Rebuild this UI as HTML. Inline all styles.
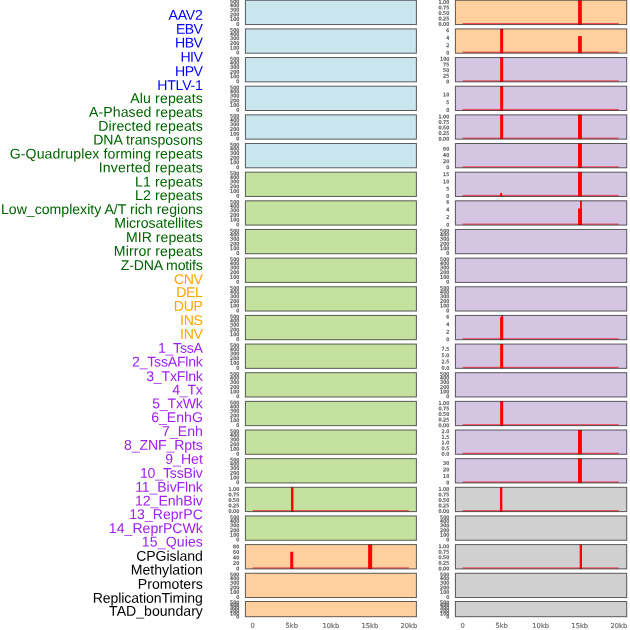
<!DOCTYPE html>
<html lang="en"><head><meta charset="utf-8"><title>Annotation tracks</title>
<style>html,body{margin:0;padding:0;background:#fff}body{width:630px;height:630px;overflow:hidden}svg{display:block;will-change:transform;opacity:0.999}.l{font-family:"Liberation Sans",Arial,sans-serif;font-size:14.10px;text-anchor:end}.t{font-family:"DejaVu Sans","Liberation Sans",sans-serif;font-size:4.85px;text-anchor:end;fill:#666666;stroke:#666666;stroke-width:0.3px}.x{font-family:"DejaVu Sans","Liberation Sans",sans-serif;font-size:6.75px;text-anchor:middle;fill:#666666;stroke:#666666;stroke-width:0.15px}</style></head><body>
<svg width="630" height="630" viewBox="0 0 630 630">
<rect x="0" y="0" width="630" height="630" fill="#ffffff"/>
<g class="l" transform="matrix(1 0.0005 0 1 0 -0.08)">
<text x="202.90" y="19.80" fill="#0000ff" textLength="34.31" lengthAdjust="spacing">AAV2</text>
<text x="202.90" y="33.67" fill="#0000ff" textLength="26.92" lengthAdjust="spacing">EBV</text>
<text x="202.90" y="47.54" fill="#0000ff" textLength="27.79" lengthAdjust="spacing">HBV</text>
<text x="202.90" y="61.71" fill="#0000ff" textLength="22.41" lengthAdjust="spacing">HIV</text>
<text x="202.90" y="76.08" fill="#0000ff" textLength="27.79" lengthAdjust="spacing">HPV</text>
<text x="202.90" y="89.95" fill="#0000ff" textLength="45.66" lengthAdjust="spacing">HTLV-1</text>
<text x="202.90" y="103.02" fill="#006400" textLength="72.63" lengthAdjust="spacing">Alu repeats</text>
<text x="202.90" y="116.89" fill="#006400" textLength="113.87" lengthAdjust="spacing">A-Phased repeats</text>
<text x="202.90" y="130.76" fill="#006400" textLength="104.75" lengthAdjust="spacing">Directed repeats</text>
<text x="202.90" y="144.63" fill="#006400" textLength="109.73" lengthAdjust="spacing">DNA transposons</text>
<text x="202.90" y="158.50" fill="#006400" textLength="193.14" lengthAdjust="spacing">G-Quadruplex forming repeats</text>
<text x="202.90" y="172.37" fill="#006400" textLength="104.20" lengthAdjust="spacing">Inverted repeats</text>
<text x="202.90" y="186.54" fill="#006400" textLength="67.93" lengthAdjust="spacing">L1 repeats</text>
<text x="202.90" y="200.11" fill="#006400" textLength="67.93" lengthAdjust="spacing">L2 repeats</text>
<text x="202.90" y="213.98" fill="#006400" textLength="201.94" lengthAdjust="spacing">Low_complexity A/T rich regions</text>
<text x="202.90" y="227.85" fill="#006400" textLength="88.63" lengthAdjust="spacing">Microsatellites</text>
<text x="202.90" y="242.02" fill="#006400" textLength="76.79" lengthAdjust="spacing">MIR repeats</text>
<text x="202.90" y="255.89" fill="#006400" textLength="89.06" lengthAdjust="spacing">Mirror repeats</text>
<text x="202.90" y="269.96" fill="#006400" textLength="82.12" lengthAdjust="spacing">Z-DNA motifs</text>
<text x="202.90" y="284.03" fill="#ffa500" textLength="28.77" lengthAdjust="spacing">CNV</text>
<text x="202.90" y="296.90" fill="#ffa500" textLength="26.73" lengthAdjust="spacing">DEL</text>
<text x="202.90" y="310.77" fill="#ffa500" textLength="29.07" lengthAdjust="spacing">DUP</text>
<text x="202.90" y="324.94" fill="#ffa500" textLength="22.81" lengthAdjust="spacing">INS</text>
<text x="202.90" y="338.81" fill="#ffa500" textLength="22.81" lengthAdjust="spacing">INV</text>
<text x="202.90" y="352.68" fill="#a020f0" textLength="44.94" lengthAdjust="spacing">1_TssA</text>
<text x="202.90" y="366.55" fill="#a020f0" textLength="70.88" lengthAdjust="spacing">2_TssAFlnk</text>
<text x="202.90" y="380.92" fill="#a020f0" textLength="56.69" lengthAdjust="spacing">3_TxFlnk</text>
<text x="202.90" y="394.59" fill="#a020f0" textLength="30.65" lengthAdjust="spacing">4_Tx</text>
<text x="202.90" y="408.16" fill="#a020f0" textLength="50.71" lengthAdjust="spacing">5_TxWk</text>
<text x="202.90" y="422.03" fill="#a020f0" textLength="51.74" lengthAdjust="spacing">6_EnhG</text>
<text x="202.90" y="435.90" fill="#a020f0" textLength="40.77" lengthAdjust="spacing">7_Enh</text>
<text x="202.90" y="449.77" fill="#a020f0" textLength="78.93" lengthAdjust="spacing">8_ZNF_Rpts</text>
<text x="202.90" y="463.64" fill="#a020f0" textLength="37.63" lengthAdjust="spacing">9_Het</text>
<text x="202.90" y="477.81" fill="#a020f0" textLength="62.96" lengthAdjust="spacing">10_TssBiv</text>
<text x="202.90" y="491.68" fill="#a020f0" textLength="67.71" lengthAdjust="spacing">11_BivFlnk</text>
<text x="202.90" y="505.55" fill="#a020f0" textLength="67.90" lengthAdjust="spacing">12_EnhBiv</text>
<text x="202.90" y="519.12" fill="#a020f0" textLength="73.68" lengthAdjust="spacing">13_ReprPC</text>
<text x="202.90" y="532.99" fill="#a020f0" textLength="94.03" lengthAdjust="spacing">14_ReprPCWk</text>
<text x="202.90" y="546.56" fill="#a020f0" textLength="61.06" lengthAdjust="spacing">15_Quies</text>
<text x="202.90" y="560.73" fill="#000000" textLength="66.70" lengthAdjust="spacing">CPGisland</text>
<text x="202.90" y="574.60" fill="#000000" textLength="72.11" lengthAdjust="spacing">Methylation</text>
<text x="202.90" y="588.70" fill="#000000" textLength="65.04" lengthAdjust="spacing">Promoters</text>
<text x="202.90" y="602.80" fill="#000000" textLength="110.24" lengthAdjust="spacing">ReplicationTiming</text>
<text x="202.90" y="615.80" fill="#000000" textLength="93.79" lengthAdjust="spacing">TAD_boundary</text>
</g>
<g>
<rect x="245.40" y="0.25" width="171.00" height="24.30" fill="#c9e5ee"/>
<rect x="245.40" y="0.25" width="171.00" height="24.30" fill="none" stroke="#141414" stroke-opacity="0.68" stroke-width="1.0"/>
<g class="t" transform="matrix(1 0.001 0 1 0 -0.25)">
<text x="239.30" y="25.65">0</text>
<text x="239.30" y="20.85">100</text>
<text x="239.30" y="16.25">200</text>
<text x="239.30" y="11.45">300</text>
<text x="239.30" y="7.15">400</text>
<text x="239.30" y="3.25">500</text>
</g></g>
<g>
<rect x="245.40" y="28.90" width="171.00" height="24.30" fill="#c9e5ee"/>
<rect x="245.40" y="28.90" width="171.00" height="24.30" fill="none" stroke="#141414" stroke-opacity="0.68" stroke-width="1.0"/>
<g class="t" transform="matrix(1 0.001 0 1 0 -0.25)">
<text x="239.30" y="54.30">0</text>
<text x="239.30" y="49.50">100</text>
<text x="239.30" y="44.90">200</text>
<text x="239.30" y="40.10">300</text>
<text x="239.30" y="35.80">400</text>
<text x="239.30" y="31.90">500</text>
</g></g>
<g>
<rect x="245.40" y="57.55" width="171.00" height="24.30" fill="#c9e5ee"/>
<rect x="245.40" y="57.55" width="171.00" height="24.30" fill="none" stroke="#141414" stroke-opacity="0.68" stroke-width="1.0"/>
<g class="t" transform="matrix(1 0.001 0 1 0 -0.25)">
<text x="239.30" y="82.95">0</text>
<text x="239.30" y="78.15">100</text>
<text x="239.30" y="73.55">200</text>
<text x="239.30" y="68.75">300</text>
<text x="239.30" y="64.45">400</text>
<text x="239.30" y="60.55">500</text>
</g></g>
<g>
<rect x="245.40" y="86.20" width="171.00" height="24.30" fill="#c9e5ee"/>
<rect x="245.40" y="86.20" width="171.00" height="24.30" fill="none" stroke="#141414" stroke-opacity="0.68" stroke-width="1.0"/>
<g class="t" transform="matrix(1 0.001 0 1 0 -0.25)">
<text x="239.30" y="111.60">0</text>
<text x="239.30" y="106.80">100</text>
<text x="239.30" y="102.20">200</text>
<text x="239.30" y="97.40">300</text>
<text x="239.30" y="93.10">400</text>
<text x="239.30" y="89.20">500</text>
</g></g>
<g>
<rect x="245.40" y="114.85" width="171.00" height="24.30" fill="#c9e5ee"/>
<rect x="245.40" y="114.85" width="171.00" height="24.30" fill="none" stroke="#141414" stroke-opacity="0.68" stroke-width="1.0"/>
<g class="t" transform="matrix(1 0.001 0 1 0 -0.25)">
<text x="239.30" y="140.25">0</text>
<text x="239.30" y="135.45">100</text>
<text x="239.30" y="130.85">200</text>
<text x="239.30" y="126.05">300</text>
<text x="239.30" y="121.75">400</text>
<text x="239.30" y="117.85">500</text>
</g></g>
<g>
<rect x="245.40" y="143.50" width="171.00" height="24.30" fill="#c9e5ee"/>
<rect x="245.40" y="143.50" width="171.00" height="24.30" fill="none" stroke="#141414" stroke-opacity="0.68" stroke-width="1.0"/>
<g class="t" transform="matrix(1 0.001 0 1 0 -0.25)">
<text x="239.30" y="168.90">0</text>
<text x="239.30" y="164.10">100</text>
<text x="239.30" y="159.50">200</text>
<text x="239.30" y="154.70">300</text>
<text x="239.30" y="150.40">400</text>
<text x="239.30" y="146.50">500</text>
</g></g>
<g>
<rect x="245.40" y="172.15" width="171.00" height="24.30" fill="#c5e1a0"/>
<rect x="245.40" y="172.15" width="171.00" height="24.30" fill="none" stroke="#141414" stroke-opacity="0.68" stroke-width="1.0"/>
<g class="t" transform="matrix(1 0.001 0 1 0 -0.25)">
<text x="239.30" y="197.55">0</text>
<text x="239.30" y="192.75">100</text>
<text x="239.30" y="188.15">200</text>
<text x="239.30" y="183.35">300</text>
<text x="239.30" y="179.05">400</text>
<text x="239.30" y="175.15">500</text>
</g></g>
<g>
<rect x="245.40" y="200.80" width="171.00" height="24.30" fill="#c5e1a0"/>
<rect x="245.40" y="200.80" width="171.00" height="24.30" fill="none" stroke="#141414" stroke-opacity="0.68" stroke-width="1.0"/>
<g class="t" transform="matrix(1 0.001 0 1 0 -0.25)">
<text x="239.30" y="226.20">0</text>
<text x="239.30" y="221.40">100</text>
<text x="239.30" y="216.80">200</text>
<text x="239.30" y="212.00">300</text>
<text x="239.30" y="207.70">400</text>
<text x="239.30" y="203.80">500</text>
</g></g>
<g>
<rect x="245.40" y="229.45" width="171.00" height="24.30" fill="#c5e1a0"/>
<rect x="245.40" y="229.45" width="171.00" height="24.30" fill="none" stroke="#141414" stroke-opacity="0.68" stroke-width="1.0"/>
<g class="t" transform="matrix(1 0.001 0 1 0 -0.25)">
<text x="239.30" y="254.85">0</text>
<text x="239.30" y="250.05">100</text>
<text x="239.30" y="245.45">200</text>
<text x="239.30" y="240.65">300</text>
<text x="239.30" y="236.35">400</text>
<text x="239.30" y="232.45">500</text>
</g></g>
<g>
<rect x="245.40" y="258.10" width="171.00" height="24.30" fill="#c5e1a0"/>
<rect x="245.40" y="258.10" width="171.00" height="24.30" fill="none" stroke="#141414" stroke-opacity="0.68" stroke-width="1.0"/>
<g class="t" transform="matrix(1 0.001 0 1 0 -0.25)">
<text x="239.30" y="283.50">0</text>
<text x="239.30" y="278.70">100</text>
<text x="239.30" y="274.10">200</text>
<text x="239.30" y="269.30">300</text>
<text x="239.30" y="265.00">400</text>
<text x="239.30" y="261.10">500</text>
</g></g>
<g>
<rect x="245.40" y="286.75" width="171.00" height="24.30" fill="#c5e1a0"/>
<rect x="245.40" y="286.75" width="171.00" height="24.30" fill="none" stroke="#141414" stroke-opacity="0.68" stroke-width="1.0"/>
<g class="t" transform="matrix(1 0.001 0 1 0 -0.25)">
<text x="239.30" y="312.15">0</text>
<text x="239.30" y="307.35">100</text>
<text x="239.30" y="302.75">200</text>
<text x="239.30" y="297.95">300</text>
<text x="239.30" y="293.65">400</text>
<text x="239.30" y="289.75">500</text>
</g></g>
<g>
<rect x="245.40" y="315.40" width="171.00" height="24.30" fill="#c5e1a0"/>
<rect x="245.40" y="315.40" width="171.00" height="24.30" fill="none" stroke="#141414" stroke-opacity="0.68" stroke-width="1.0"/>
<g class="t" transform="matrix(1 0.001 0 1 0 -0.25)">
<text x="239.30" y="340.80">0</text>
<text x="239.30" y="336.00">100</text>
<text x="239.30" y="331.40">200</text>
<text x="239.30" y="326.60">300</text>
<text x="239.30" y="322.30">400</text>
<text x="239.30" y="318.40">500</text>
</g></g>
<g>
<rect x="245.40" y="344.05" width="171.00" height="24.30" fill="#c5e1a0"/>
<rect x="245.40" y="344.05" width="171.00" height="24.30" fill="none" stroke="#141414" stroke-opacity="0.68" stroke-width="1.0"/>
<g class="t" transform="matrix(1 0.001 0 1 0 -0.25)">
<text x="239.30" y="369.45">0</text>
<text x="239.30" y="364.65">100</text>
<text x="239.30" y="360.05">200</text>
<text x="239.30" y="355.25">300</text>
<text x="239.30" y="350.95">400</text>
<text x="239.30" y="347.05">500</text>
</g></g>
<g>
<rect x="245.40" y="372.70" width="171.00" height="24.30" fill="#c5e1a0"/>
<rect x="245.40" y="372.70" width="171.00" height="24.30" fill="none" stroke="#141414" stroke-opacity="0.68" stroke-width="1.0"/>
<g class="t" transform="matrix(1 0.001 0 1 0 -0.25)">
<text x="239.30" y="398.10">0</text>
<text x="239.30" y="393.30">100</text>
<text x="239.30" y="388.70">200</text>
<text x="239.30" y="383.90">300</text>
<text x="239.30" y="379.60">400</text>
<text x="239.30" y="375.70">500</text>
</g></g>
<g>
<rect x="245.40" y="401.35" width="171.00" height="24.30" fill="#c5e1a0"/>
<rect x="245.40" y="401.35" width="171.00" height="24.30" fill="none" stroke="#141414" stroke-opacity="0.68" stroke-width="1.0"/>
<g class="t" transform="matrix(1 0.001 0 1 0 -0.25)">
<text x="239.30" y="426.75">0</text>
<text x="239.30" y="421.95">100</text>
<text x="239.30" y="417.35">200</text>
<text x="239.30" y="412.55">300</text>
<text x="239.30" y="408.25">400</text>
<text x="239.30" y="404.35">500</text>
</g></g>
<g>
<rect x="245.40" y="430.00" width="171.00" height="24.30" fill="#c5e1a0"/>
<rect x="245.40" y="430.00" width="171.00" height="24.30" fill="none" stroke="#141414" stroke-opacity="0.68" stroke-width="1.0"/>
<g class="t" transform="matrix(1 0.001 0 1 0 -0.25)">
<text x="239.30" y="455.40">0</text>
<text x="239.30" y="450.60">100</text>
<text x="239.30" y="446.00">200</text>
<text x="239.30" y="441.20">300</text>
<text x="239.30" y="436.90">400</text>
<text x="239.30" y="433.00">500</text>
</g></g>
<g>
<rect x="245.40" y="458.65" width="171.00" height="24.30" fill="#c5e1a0"/>
<rect x="245.40" y="458.65" width="171.00" height="24.30" fill="none" stroke="#141414" stroke-opacity="0.68" stroke-width="1.0"/>
<g class="t" transform="matrix(1 0.001 0 1 0 -0.25)">
<text x="239.30" y="484.05">0</text>
<text x="239.30" y="479.25">100</text>
<text x="239.30" y="474.65">200</text>
<text x="239.30" y="469.85">300</text>
<text x="239.30" y="465.55">400</text>
<text x="239.30" y="461.65">500</text>
</g></g>
<g>
<rect x="245.40" y="487.30" width="171.00" height="24.30" fill="#c5e1a0"/>
<rect x="291.05" y="487.30" width="2.40" height="24.00" fill="#ff0000"/>
<rect x="252.70" y="510.05" width="156.20" height="1.25" fill="#ee3040" opacity="0.8"/>
<rect x="291.05" y="510.00" width="2.40" height="1.5" fill="#ff0000"/>
<rect x="245.40" y="487.30" width="171.00" height="24.30" fill="none" stroke="#141414" stroke-opacity="0.68" stroke-width="1.0"/>
<g class="t" transform="matrix(1 0.001 0 1 0 -0.25)">
<text x="239.30" y="512.90">0.00</text>
<text x="239.30" y="507.35">0.25</text>
<text x="239.30" y="501.80">0.50</text>
<text x="239.30" y="496.25">0.75</text>
<text x="239.30" y="490.70">1.00</text>
</g></g>
<g>
<rect x="245.40" y="515.95" width="171.00" height="24.30" fill="#c5e1a0"/>
<rect x="245.40" y="515.95" width="171.00" height="24.30" fill="none" stroke="#141414" stroke-opacity="0.68" stroke-width="1.0"/>
<g class="t" transform="matrix(1 0.001 0 1 0 -0.25)">
<text x="239.30" y="541.35">0</text>
<text x="239.30" y="536.55">100</text>
<text x="239.30" y="531.95">200</text>
<text x="239.30" y="527.15">300</text>
<text x="239.30" y="522.85">400</text>
<text x="239.30" y="518.95">500</text>
</g></g>
<g>
<rect x="245.40" y="544.60" width="171.00" height="24.30" fill="#ffcf9e"/>
<rect x="290.25" y="551.80" width="3.00" height="16.80" fill="#ff0000"/>
<rect x="368.15" y="544.60" width="4.00" height="24.00" fill="#ff0000"/>
<rect x="252.70" y="567.35" width="156.20" height="1.25" fill="#ee3040" opacity="0.8"/>
<rect x="290.25" y="567.30" width="3.00" height="1.5" fill="#ff0000"/>
<rect x="368.15" y="567.30" width="4.00" height="1.5" fill="#ff0000"/>
<rect x="245.40" y="544.60" width="171.00" height="24.30" fill="none" stroke="#141414" stroke-opacity="0.68" stroke-width="1.0"/>
<g class="t" transform="matrix(1 0.001 0 1 0 -0.25)">
<text x="239.30" y="570.20">0</text>
<text x="239.30" y="564.70">20</text>
<text x="239.30" y="559.20">40</text>
<text x="239.30" y="553.70">60</text>
<text x="239.30" y="548.20">80</text>
</g></g>
<g>
<rect x="245.40" y="573.25" width="171.00" height="24.30" fill="#ffcf9e"/>
<rect x="245.40" y="573.25" width="171.00" height="24.30" fill="none" stroke="#141414" stroke-opacity="0.68" stroke-width="1.0"/>
<g class="t" transform="matrix(1 0.001 0 1 0 -0.25)">
<text x="239.30" y="598.65">0</text>
<text x="239.30" y="593.85">100</text>
<text x="239.30" y="589.25">200</text>
<text x="239.30" y="584.45">300</text>
<text x="239.30" y="580.15">400</text>
<text x="239.30" y="576.25">500</text>
</g></g>
<g>
<rect x="245.40" y="601.50" width="171.00" height="15.20" fill="#ffcf9e"/>
<rect x="245.40" y="601.50" width="171.00" height="15.20" fill="none" stroke="#141414" stroke-opacity="0.68" stroke-width="1.0"/>
<g class="t" transform="matrix(1 0.001 0 1 0 -0.25)">
<text x="239.30" y="618.24">0</text>
<text x="239.30" y="615.22">100</text>
<text x="239.30" y="612.33">200</text>
<text x="239.30" y="609.31">300</text>
<text x="239.30" y="606.60">400</text>
<text x="239.30" y="604.15">500</text>
</g></g>
<g class="x" transform="matrix(1 0.0005 0 1 0 -0.17)">
<text x="252.70" y="627.9">0</text>
<text x="291.75" y="627.9">5kb</text>
<text x="330.80" y="627.9">10kb</text>
<text x="369.85" y="627.9">15kb</text>
<text x="408.90" y="627.9">20kb</text>
</g>
<g>
<rect x="455.40" y="0.25" width="171.30" height="24.30" fill="#ffcf9e"/>
<rect x="578.10" y="0.25" width="3.70" height="24.00" fill="#ff0000"/>
<rect x="462.60" y="23.00" width="156.20" height="1.25" fill="#ee3040" opacity="0.8"/>
<rect x="578.10" y="22.95" width="3.70" height="1.5" fill="#ff0000"/>
<rect x="455.40" y="0.25" width="171.30" height="24.30" fill="none" stroke="#141414" stroke-opacity="0.68" stroke-width="1.0"/>
<g class="t" transform="matrix(1 0.001 0 1 0 -0.46)">
<text x="449.30" y="25.85">0.00</text>
<text x="449.30" y="20.30">0.25</text>
<text x="449.30" y="14.75">0.50</text>
<text x="449.30" y="9.20">0.75</text>
<text x="449.30" y="3.65">1.00</text>
</g></g>
<g>
<rect x="455.40" y="28.90" width="171.30" height="24.30" fill="#ffcf9e"/>
<rect x="500.15" y="28.90" width="3.00" height="24.00" fill="#ff0000"/>
<rect x="578.10" y="36.10" width="3.70" height="16.80" fill="#ff0000"/>
<rect x="462.60" y="51.65" width="156.20" height="1.25" fill="#ee3040" opacity="0.8"/>
<rect x="500.15" y="51.60" width="3.00" height="1.5" fill="#ff0000"/>
<rect x="578.10" y="51.60" width="3.70" height="1.5" fill="#ff0000"/>
<rect x="455.40" y="28.90" width="171.30" height="24.30" fill="none" stroke="#141414" stroke-opacity="0.68" stroke-width="1.0"/>
<g class="t" transform="matrix(1 0.001 0 1 0 -0.46)">
<text x="449.30" y="54.50">0</text>
<text x="449.30" y="46.97">2</text>
<text x="449.30" y="39.43">4</text>
<text x="449.30" y="31.90">6</text>
</g></g>
<g>
<rect x="455.40" y="57.55" width="171.30" height="24.30" fill="#d4c5e2"/>
<rect x="500.15" y="57.55" width="3.00" height="24.00" fill="#ff0000"/>
<rect x="462.60" y="80.30" width="156.20" height="1.25" fill="#ee3040" opacity="0.8"/>
<rect x="500.15" y="80.25" width="3.00" height="1.5" fill="#ff0000"/>
<rect x="455.40" y="57.55" width="171.30" height="24.30" fill="none" stroke="#141414" stroke-opacity="0.68" stroke-width="1.0"/>
<g class="t" transform="matrix(1 0.001 0 1 0 -0.46)">
<text x="449.30" y="83.15">0</text>
<text x="449.30" y="77.52">25</text>
<text x="449.30" y="71.90">50</text>
<text x="449.30" y="66.27">75</text>
<text x="449.30" y="60.65">100</text>
</g></g>
<g>
<rect x="455.40" y="86.20" width="171.30" height="24.30" fill="#d4c5e2"/>
<rect x="500.15" y="86.20" width="3.00" height="24.00" fill="#ff0000"/>
<rect x="462.60" y="108.95" width="156.20" height="1.25" fill="#ee3040" opacity="0.8"/>
<rect x="500.15" y="108.90" width="3.00" height="1.5" fill="#ff0000"/>
<rect x="455.40" y="86.20" width="171.30" height="24.30" fill="none" stroke="#141414" stroke-opacity="0.68" stroke-width="1.0"/>
<g class="t" transform="matrix(1 0.001 0 1 0 -0.46)">
<text x="449.30" y="111.80">0</text>
<text x="449.30" y="104.05">5</text>
<text x="449.30" y="96.30">10</text>
</g></g>
<g>
<rect x="455.40" y="114.85" width="171.30" height="24.30" fill="#d4c5e2"/>
<rect x="500.15" y="114.85" width="3.00" height="24.00" fill="#ff0000"/>
<rect x="578.00" y="114.85" width="3.90" height="24.00" fill="#ff0000"/>
<rect x="462.60" y="137.60" width="156.20" height="1.25" fill="#ee3040" opacity="0.8"/>
<rect x="500.15" y="137.55" width="3.00" height="1.5" fill="#ff0000"/>
<rect x="578.00" y="137.55" width="3.90" height="1.5" fill="#ff0000"/>
<rect x="455.40" y="114.85" width="171.30" height="24.30" fill="none" stroke="#141414" stroke-opacity="0.68" stroke-width="1.0"/>
<g class="t" transform="matrix(1 0.001 0 1 0 -0.46)">
<text x="449.30" y="140.45">0.00</text>
<text x="449.30" y="134.90">0.25</text>
<text x="449.30" y="129.35">0.50</text>
<text x="449.30" y="123.80">0.75</text>
<text x="449.30" y="118.25">1.00</text>
</g></g>
<g>
<rect x="455.40" y="143.50" width="171.30" height="24.30" fill="#d4c5e2"/>
<rect x="578.00" y="143.50" width="3.90" height="24.00" fill="#ff0000"/>
<rect x="462.60" y="166.25" width="156.20" height="1.25" fill="#ee3040" opacity="0.8"/>
<rect x="578.00" y="166.20" width="3.90" height="1.5" fill="#ff0000"/>
<rect x="455.40" y="143.50" width="171.30" height="24.30" fill="none" stroke="#141414" stroke-opacity="0.68" stroke-width="1.0"/>
<g class="t" transform="matrix(1 0.001 0 1 0 -0.46)">
<text x="449.30" y="169.10">0</text>
<text x="449.30" y="162.93">20</text>
<text x="449.30" y="156.77">40</text>
<text x="449.30" y="150.60">60</text>
</g></g>
<g>
<rect x="455.40" y="172.15" width="171.30" height="24.30" fill="#d4c5e2"/>
<rect x="500.20" y="192.91" width="1.90" height="3.24" fill="#ff0000"/>
<rect x="578.00" y="172.15" width="3.90" height="24.00" fill="#ff0000"/>
<rect x="462.60" y="194.90" width="156.20" height="1.25" fill="#ee3040" opacity="0.8"/>
<rect x="500.20" y="194.85" width="1.90" height="1.5" fill="#ff0000"/>
<rect x="578.00" y="194.85" width="3.90" height="1.5" fill="#ff0000"/>
<rect x="455.40" y="172.15" width="171.30" height="24.30" fill="none" stroke="#141414" stroke-opacity="0.68" stroke-width="1.0"/>
<g class="t" transform="matrix(1 0.001 0 1 0 -0.46)">
<text x="449.30" y="197.75">0</text>
<text x="449.30" y="190.48">5</text>
<text x="449.30" y="183.22">10</text>
<text x="449.30" y="175.95">15</text>
</g></g>
<g>
<rect x="455.40" y="200.80" width="171.30" height="24.30" fill="#d4c5e2"/>
<rect x="578.05" y="208.48" width="3.80" height="16.32" fill="#ff0000"/>
<rect x="580.05" y="200.80" width="1.80" height="24.00" fill="#ff0000"/>
<rect x="462.60" y="223.55" width="156.20" height="1.25" fill="#ee3040" opacity="0.8"/>
<rect x="578.05" y="223.50" width="3.80" height="1.5" fill="#ff0000"/>
<rect x="580.05" y="223.50" width="1.80" height="1.5" fill="#ff0000"/>
<rect x="455.40" y="200.80" width="171.30" height="24.30" fill="none" stroke="#141414" stroke-opacity="0.68" stroke-width="1.0"/>
<g class="t" transform="matrix(1 0.001 0 1 0 -0.46)">
<text x="449.30" y="226.40">0</text>
<text x="449.30" y="218.87">2</text>
<text x="449.30" y="211.33">4</text>
<text x="449.30" y="203.80">6</text>
</g></g>
<g>
<rect x="455.40" y="229.45" width="171.30" height="24.30" fill="#d4c5e2"/>
<rect x="455.40" y="229.45" width="171.30" height="24.30" fill="none" stroke="#141414" stroke-opacity="0.68" stroke-width="1.0"/>
<g class="t" transform="matrix(1 0.001 0 1 0 -0.46)">
<text x="449.30" y="254.85">0</text>
<text x="449.30" y="250.05">100</text>
<text x="449.30" y="245.45">200</text>
<text x="449.30" y="240.65">300</text>
<text x="449.30" y="236.35">400</text>
<text x="449.30" y="232.45">500</text>
</g></g>
<g>
<rect x="455.40" y="258.10" width="171.30" height="24.30" fill="#d4c5e2"/>
<rect x="455.40" y="258.10" width="171.30" height="24.30" fill="none" stroke="#141414" stroke-opacity="0.68" stroke-width="1.0"/>
<g class="t" transform="matrix(1 0.001 0 1 0 -0.46)">
<text x="449.30" y="283.50">0</text>
<text x="449.30" y="278.70">100</text>
<text x="449.30" y="274.10">200</text>
<text x="449.30" y="269.30">300</text>
<text x="449.30" y="265.00">400</text>
<text x="449.30" y="261.10">500</text>
</g></g>
<g>
<rect x="455.40" y="286.75" width="171.30" height="24.30" fill="#d4c5e2"/>
<rect x="455.40" y="286.75" width="171.30" height="24.30" fill="none" stroke="#141414" stroke-opacity="0.68" stroke-width="1.0"/>
<g class="t" transform="matrix(1 0.001 0 1 0 -0.46)">
<text x="449.30" y="312.15">0</text>
<text x="449.30" y="307.35">100</text>
<text x="449.30" y="302.75">200</text>
<text x="449.30" y="297.95">300</text>
<text x="449.30" y="293.65">400</text>
<text x="449.30" y="289.75">500</text>
</g></g>
<g>
<rect x="455.40" y="315.40" width="171.30" height="24.30" fill="#d4c5e2"/>
<rect x="500.10" y="317.08" width="3.00" height="22.32" fill="#ff0000"/>
<rect x="501.20" y="315.40" width="1.90" height="24.00" fill="#ff0000"/>
<rect x="462.60" y="338.15" width="156.20" height="1.25" fill="#ee3040" opacity="0.8"/>
<rect x="500.10" y="338.10" width="3.00" height="1.5" fill="#ff0000"/>
<rect x="501.20" y="338.10" width="1.90" height="1.5" fill="#ff0000"/>
<rect x="455.40" y="315.40" width="171.30" height="24.30" fill="none" stroke="#141414" stroke-opacity="0.68" stroke-width="1.0"/>
<g class="t" transform="matrix(1 0.001 0 1 0 -0.46)">
<text x="449.30" y="341.00">0</text>
<text x="449.30" y="333.47">2</text>
<text x="449.30" y="325.93">4</text>
<text x="449.30" y="318.40">6</text>
</g></g>
<g>
<rect x="455.40" y="344.05" width="171.30" height="24.30" fill="#d4c5e2"/>
<rect x="500.15" y="344.05" width="3.00" height="24.00" fill="#ff0000"/>
<rect x="462.60" y="366.80" width="156.20" height="1.25" fill="#ee3040" opacity="0.8"/>
<rect x="500.15" y="366.75" width="3.00" height="1.5" fill="#ff0000"/>
<rect x="455.40" y="344.05" width="171.30" height="24.30" fill="none" stroke="#141414" stroke-opacity="0.68" stroke-width="1.0"/>
<g class="t" transform="matrix(1 0.001 0 1 0 -0.46)">
<text x="449.30" y="369.65">0.0</text>
<text x="449.30" y="363.32">2.5</text>
<text x="449.30" y="356.98">5.0</text>
<text x="449.30" y="350.65">7.5</text>
</g></g>
<g>
<rect x="455.40" y="372.70" width="171.30" height="24.30" fill="#d4c5e2"/>
<rect x="455.40" y="372.70" width="171.30" height="24.30" fill="none" stroke="#141414" stroke-opacity="0.68" stroke-width="1.0"/>
<g class="t" transform="matrix(1 0.001 0 1 0 -0.46)">
<text x="449.30" y="398.10">0</text>
<text x="449.30" y="393.30">100</text>
<text x="449.30" y="388.70">200</text>
<text x="449.30" y="383.90">300</text>
<text x="449.30" y="379.60">400</text>
<text x="449.30" y="375.70">500</text>
</g></g>
<g>
<rect x="455.40" y="401.35" width="171.30" height="24.30" fill="#d4c5e2"/>
<rect x="500.15" y="401.35" width="3.00" height="24.00" fill="#ff0000"/>
<rect x="462.60" y="424.10" width="156.20" height="1.25" fill="#ee3040" opacity="0.8"/>
<rect x="500.15" y="424.05" width="3.00" height="1.5" fill="#ff0000"/>
<rect x="455.40" y="401.35" width="171.30" height="24.30" fill="none" stroke="#141414" stroke-opacity="0.68" stroke-width="1.0"/>
<g class="t" transform="matrix(1 0.001 0 1 0 -0.46)">
<text x="449.30" y="426.95">0.00</text>
<text x="449.30" y="421.40">0.25</text>
<text x="449.30" y="415.85">0.50</text>
<text x="449.30" y="410.30">0.75</text>
<text x="449.30" y="404.75">1.00</text>
</g></g>
<g>
<rect x="455.40" y="430.00" width="171.30" height="24.30" fill="#d4c5e2"/>
<rect x="578.00" y="430.00" width="3.90" height="24.00" fill="#ff0000"/>
<rect x="462.60" y="452.75" width="156.20" height="1.25" fill="#ee3040" opacity="0.8"/>
<rect x="578.00" y="452.70" width="3.90" height="1.5" fill="#ff0000"/>
<rect x="455.40" y="430.00" width="171.30" height="24.30" fill="none" stroke="#141414" stroke-opacity="0.68" stroke-width="1.0"/>
<g class="t" transform="matrix(1 0.001 0 1 0 -0.46)">
<text x="449.30" y="455.60">0.0</text>
<text x="449.30" y="449.95">0.5</text>
<text x="449.30" y="444.30">1.0</text>
<text x="449.30" y="438.65">1.5</text>
<text x="449.30" y="433.00">2.0</text>
</g></g>
<g>
<rect x="455.40" y="458.65" width="171.30" height="24.30" fill="#d4c5e2"/>
<rect x="578.00" y="458.65" width="3.90" height="24.00" fill="#ff0000"/>
<rect x="462.60" y="481.40" width="156.20" height="1.25" fill="#ee3040" opacity="0.8"/>
<rect x="578.00" y="481.35" width="3.90" height="1.5" fill="#ff0000"/>
<rect x="455.40" y="458.65" width="171.30" height="24.30" fill="none" stroke="#141414" stroke-opacity="0.68" stroke-width="1.0"/>
<g class="t" transform="matrix(1 0.001 0 1 0 -0.46)">
<text x="449.30" y="484.25">0</text>
<text x="449.30" y="477.78">10</text>
<text x="449.30" y="471.32">20</text>
<text x="449.30" y="464.85">30</text>
</g></g>
<g>
<rect x="455.40" y="487.30" width="171.30" height="24.30" fill="#d0d0d0"/>
<rect x="499.95" y="487.30" width="2.40" height="24.00" fill="#ff0000"/>
<rect x="462.60" y="510.05" width="156.20" height="1.25" fill="#ee3040" opacity="0.8"/>
<rect x="499.95" y="510.00" width="2.40" height="1.5" fill="#ff0000"/>
<rect x="455.40" y="487.30" width="171.30" height="24.30" fill="none" stroke="#141414" stroke-opacity="0.68" stroke-width="1.0"/>
<g class="t" transform="matrix(1 0.001 0 1 0 -0.46)">
<text x="449.30" y="512.90">0.00</text>
<text x="449.30" y="507.35">0.25</text>
<text x="449.30" y="501.80">0.50</text>
<text x="449.30" y="496.25">0.75</text>
<text x="449.30" y="490.70">1.00</text>
</g></g>
<g>
<rect x="455.40" y="515.95" width="171.30" height="24.30" fill="#d0d0d0"/>
<rect x="455.40" y="515.95" width="171.30" height="24.30" fill="none" stroke="#141414" stroke-opacity="0.68" stroke-width="1.0"/>
<g class="t" transform="matrix(1 0.001 0 1 0 -0.46)">
<text x="449.30" y="541.35">0</text>
<text x="449.30" y="536.55">100</text>
<text x="449.30" y="531.95">200</text>
<text x="449.30" y="527.15">300</text>
<text x="449.30" y="522.85">400</text>
<text x="449.30" y="518.95">500</text>
</g></g>
<g>
<rect x="455.40" y="544.60" width="171.30" height="24.30" fill="#d0d0d0"/>
<rect x="579.70" y="544.60" width="2.30" height="24.00" fill="#ff0000"/>
<rect x="462.60" y="567.35" width="156.20" height="1.25" fill="#ee3040" opacity="0.8"/>
<rect x="579.70" y="567.30" width="2.30" height="1.5" fill="#ff0000"/>
<rect x="455.40" y="544.60" width="171.30" height="24.30" fill="none" stroke="#141414" stroke-opacity="0.68" stroke-width="1.0"/>
<g class="t" transform="matrix(1 0.001 0 1 0 -0.46)">
<text x="449.30" y="570.20">0.00</text>
<text x="449.30" y="564.65">0.25</text>
<text x="449.30" y="559.10">0.50</text>
<text x="449.30" y="553.55">0.75</text>
<text x="449.30" y="548.00">1.00</text>
</g></g>
<g>
<rect x="455.40" y="573.25" width="171.30" height="24.30" fill="#d0d0d0"/>
<rect x="455.40" y="573.25" width="171.30" height="24.30" fill="none" stroke="#141414" stroke-opacity="0.68" stroke-width="1.0"/>
<g class="t" transform="matrix(1 0.001 0 1 0 -0.46)">
<text x="449.30" y="598.65">0</text>
<text x="449.30" y="593.85">100</text>
<text x="449.30" y="589.25">200</text>
<text x="449.30" y="584.45">300</text>
<text x="449.30" y="580.15">400</text>
<text x="449.30" y="576.25">500</text>
</g></g>
<g>
<rect x="455.40" y="601.50" width="171.30" height="15.20" fill="#d0d0d0"/>
<rect x="455.40" y="601.50" width="171.30" height="15.20" fill="none" stroke="#141414" stroke-opacity="0.68" stroke-width="1.0"/>
<g class="t" transform="matrix(1 0.001 0 1 0 -0.46)">
<text x="449.30" y="618.24">0</text>
<text x="449.30" y="615.22">100</text>
<text x="449.30" y="612.33">200</text>
<text x="449.30" y="609.31">300</text>
<text x="449.30" y="606.60">400</text>
<text x="449.30" y="604.15">500</text>
</g></g>
<g class="x" transform="matrix(1 0.0005 0 1 0 -0.27)">
<text x="462.60" y="627.9">0</text>
<text x="501.65" y="627.9">5kb</text>
<text x="540.70" y="627.9">10kb</text>
<text x="579.75" y="627.9">15kb</text>
<text x="618.80" y="627.9">20kb</text>
</g>
</svg></body></html>
